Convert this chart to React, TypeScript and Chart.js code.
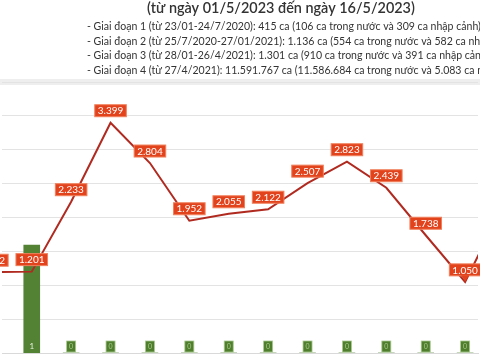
import React, { useEffect, useRef } from "react";
import { Chart, registerables } from "chart.js";

Chart.register(...registerables);

const titleText = "(từ ngày 01/5/2023 đến ngày 16/5/2023)";
const noteLines = [
  "- Giai đoạn 1 (từ 23/01-24/7/2020): 415 ca (106 ca trong nước và 309 ca nhập cảnh)",
  "- Giai đoạn 2 (từ 25/7/2020-27/01/2021): 1.136 ca (554 ca trong nước và 582 ca nhập cảnh)",
  "- Giai đoạn 3 (từ 28/01-26/4/2021): 1.301 ca (910 ca trong nước và 391 ca nhập cảnh)",
  "- Giai đoạn 4 (từ 27/4/2021): 11.591.767 ca (11.586.684 ca trong nước và 5.083 ca nhập cảnh)",
];

// day of May 2023
const days = [2, 3, 4, 5, 6, 7, 8, 9, 10, 11, 12, 13, 14, 15];
const cases = [1192, 1201, 2233, 3399, 2804, 1952, 2055, 2122, 2507, 2823, 2439, 1738, 1050, 2220];
const deaths = [0, 1, 0, 0, 0, 0, 0, 0, 0, 0, 0, 0, 0, 0];
const dayLabels = (d: number) => `${d}/5`;

const fmt = (v: number) =>
  v >= 1000 ? `${Math.floor(v / 1000)}.${String(v % 1000).padStart(3, "0")}` : String(v);

const FONT = "Lato, 'Open Sans', sans-serif";

const headerPlugin = {
  id: "header",
  beforeDraw(chart: any) {
    const ctx = chart.ctx;
    ctx.save();
    ctx.fillStyle = "#ffffff";
    ctx.fillRect(0, 0, chart.width, chart.height);
    // title, fitted to its width in the reference
    ctx.font = `600 16px ${FONT}`;
    let w = ctx.measureText(titleText).width;
    const ts = (16 * 268) / w;
    ctx.font = `600 ${ts}px ${FONT}`;
    ctx.fillStyle = "#333333";
    ctx.textAlign = "center";
    ctx.textBaseline = "middle";
    ctx.fillText(titleText, 281, 8);
    // notes
    ctx.font = `12px ${FONT}`;
    w = ctx.measureText("- Giai đoạn 1 (từ 23/01-24/7/2020): 415").width;
    const ns = (12 * 190) / w;
    ctx.font = `${ns}px ${FONT}`;
    ctx.textAlign = "left";
    ctx.fillStyle = "#333333";
    const ys = [27, 42, 56, 71];
    noteLines.forEach((t, i) => ctx.fillText(t, 87, ys[i]));
    // separator band
    ctx.fillStyle = "#eeeeee";
    ctx.fillRect(0, 79, chart.width, 6);
    ctx.restore();
  },
};

const labelPlugin = {
  id: "labels",
  afterDatasetsDraw(chart: any) {
    const ctx = chart.ctx;
    ctx.save();
    const base = chart.chartArea.bottom;
    // bar labels
    const barMeta = chart.getDatasetMeta(1);
    barMeta.data.forEach((el: any, i: number) => {
      const v = deaths[i];
      const x = el.x;
      ctx.font = `7px ${FONT}`;
      ctx.textAlign = "center";
      ctx.textBaseline = "middle";
      if (v === 0) {
        ctx.fillStyle = "#4f7f2c";
        ctx.fillRect(x - 4.5, base - 12, 9, 11);
        ctx.strokeStyle = "#a9c98f";
        ctx.lineWidth = 0.8;
        ctx.strokeRect(x - 4.5, base - 12, 9, 11);
        ctx.fillStyle = "#a8c890";
        ctx.fillText(String(v), x, base - 6.5);
      } else {
        ctx.font = `8px ${FONT}`;
        ctx.fillStyle = "#e8f0e0";
        ctx.fillText(String(v), x, base - 7);
      }
    });
    // line labels
    const lineMeta = chart.getDatasetMeta(0);
    const minV = Math.min(...cases);
    lineMeta.data.forEach((el: any, i: number) => {
      const v = cases[i];
      const t = fmt(v);
      ctx.font = `10px ${FONT}`;
      const tw = ctx.measureText(t).width;
      const bw = tw + 6;
      const bh = 12;
      const cx = el.x;
      const cy = el.y - 12;
      ctx.fillStyle = "#e2421c";
      ctx.fillRect(cx - bw / 2, cy - bh / 2, bw, bh);
      ctx.strokeStyle = "#f0805c";
      ctx.lineWidth = 1;
      ctx.strokeRect(cx - bw / 2, cy - bh / 2, bw, bh);
      if (v === minV) {
        ctx.beginPath();
        ctx.moveTo(cx - 4, cy + bh / 2 - 0.5);
        ctx.lineTo(cx, el.y);
        ctx.lineTo(cx + 4, cy + bh / 2 - 0.5);
        ctx.closePath();
        ctx.fillStyle = "#e2421c";
        ctx.fill();
      }
      ctx.fillStyle = "#ffffff";
      ctx.textAlign = "center";
      ctx.textBaseline = "middle";
      ctx.fillText(t, cx, cy + 0.5);
    });
    ctx.restore();
  },
};

export default function App() {
  const ref = useRef<HTMLCanvasElement>(null);
  useEffect(() => {
    document.body.style.margin = "0";
    const chart = new Chart(ref.current!, {
      data: {
        datasets: [
          {
            type: "line",
            data: days.map((d, i) => ({ x: d, y: cases[i] })),
            borderColor: "#b02a20",
            borderWidth: 2,
            pointRadius: 0,
            tension: 0,
            yAxisID: "y",
            order: 0,
          },
          {
            type: "bar",
            data: days.map((d, i) => ({ x: d, y: deaths[i] })),
            backgroundColor: "#548235",
            barThickness: 16,
            yAxisID: "y2",
            order: 1,
          },
        ],
      } as any,
      options: {
        responsive: false,
        animation: false,
        layout: { padding: { top: 82, left: 0, right: 0, bottom: 0 } },
        plugins: { legend: { display: false }, tooltip: { enabled: false } },
        scales: {
          x: {
            type: "linear",
            min: 2.245,
            max: 14.327,
            offset: false,
            grid: { display: false },
            border: { color: "#d9d9d9" },
            ticks: {
              stepSize: 1,
              padding: 2,
              color: "#9a9a9a",
              font: { size: 10, family: FONT },
              maxRotation: 0,
              callback: (v: any) => (Number.isInteger(v) ? dayLabels(v) : ""),
            },
            afterFit: (s: any) => {
              s.height = 7;
            },
          },
          y: {
            min: 0,
            max: 4000,
            ticks: { display: false, stepSize: 500 },
            grid: { color: "#e3e3e3", drawTicks: false },
            border: { display: false },
            afterFit: (s: any) => {
              s.width = 0;
            },
          },
          y2: {
            display: false,
            min: 0,
            max: 2.51,
          },
        },
      } as any,
      plugins: [headerPlugin, labelPlugin],
    });
    return () => chart.destroy();
  }, []);
  return (
    <div style={{ position: "fixed", left: 0, top: 0, width: 480, height: 360 }}>
      <canvas ref={ref} width={480} height={360} />
    </div>
  );
}
